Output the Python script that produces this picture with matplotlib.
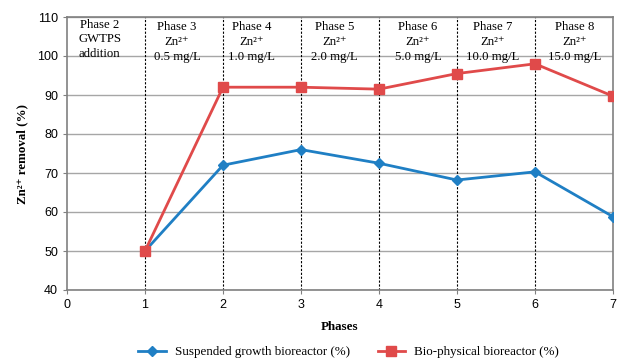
import matplotlib
matplotlib.use("Agg")
import matplotlib.pyplot as plt

phases = [1, 2, 3, 4, 5, 6, 7]
suspended = [50, 72, 76, 72.5, 68.2, 70.3, 58.8]
biophysical = [50, 92, 92, 91.5, 95.5, 98, 89.7]

phase_labels = [
    "Phase 2\nGWTPS\naddition",
    "Phase 3\nZn²⁺\n0.5 mg/L",
    "Phase 4\nZn²⁺\n1.0 mg/L",
    "Phase 5\nZn²⁺\n2.0 mg/L",
    "Phase 6\nZn²⁺\n5.0 mg/L",
    "Phase 7\nZn²⁺\n10.0 mg/L",
    "Phase 8\nZn²⁺\n15.0 mg/L",
]
label_x = [0.42, 1.41, 2.37, 3.43, 4.5, 5.46, 6.51]
boundaries = [1, 2, 3, 4, 5, 6]

serif = ["Liberation Serif", "DejaVu Serif"]
sans = "Liberation Sans"

fig = plt.figure(figsize=(6.18, 3.61), dpi=100)
ax = fig.add_axes([67 / 618, 1 - 290 / 361, 546 / 618, 273 / 361])

ax.set_xlim(0, 7)
ax.set_ylim(40, 110)
ax.set_xticks(range(8))
ax.set_yticks(range(40, 111, 10))
ax.grid(axis="y", color="#a6a6a6", linewidth=1)
ax.set_axisbelow(True)

for b in boundaries:
    ax.axvline(b, color="black", linestyle=(0, (2, 1.5)), linewidth=0.8, zorder=1)

ax.plot(phases, suspended, color="#1f7fc4", linewidth=2, marker="D",
        markersize=5, label="Suspended growth bioreactor (%)", zorder=3)
ax.plot(phases, biophysical, color="#e04a4a", linewidth=2, marker="s",
        markersize=7, label="Bio-physical bioreactor (%)", zorder=3)

for i, (x, txt) in enumerate(zip(label_x, phase_labels)):
    top = 109.6 if i == 0 else 108.9
    ax.text(x, top, txt, ha="center", va="top", fontsize=9.2,
            family=serif, linespacing=1.3)

for s in ax.spines.values():
    s.set_color("#808080")
    s.set_linewidth(1.2)
ax.tick_params(axis="both", length=3, color="#808080", labelsize=9)
for lab in ax.get_xticklabels() + ax.get_yticklabels():
    lab.set_family(sans)

ax.set_xlabel("Phases", family=serif, fontweight="bold", fontsize=9.4, labelpad=7)
ax.set_ylabel("Zn²⁺ removal (%)", family=serif, fontweight="bold",
              fontsize=9.4, labelpad=6)

ax.legend(loc="center", bbox_to_anchor=(0.516, -(352 - 290) / 273), ncol=2,
          frameon=False, prop={"family": serif, "size": 9.4},
          handlelength=2.1, handletextpad=0.7, columnspacing=2.1)

fig.savefig("out.png", dpi=100)
